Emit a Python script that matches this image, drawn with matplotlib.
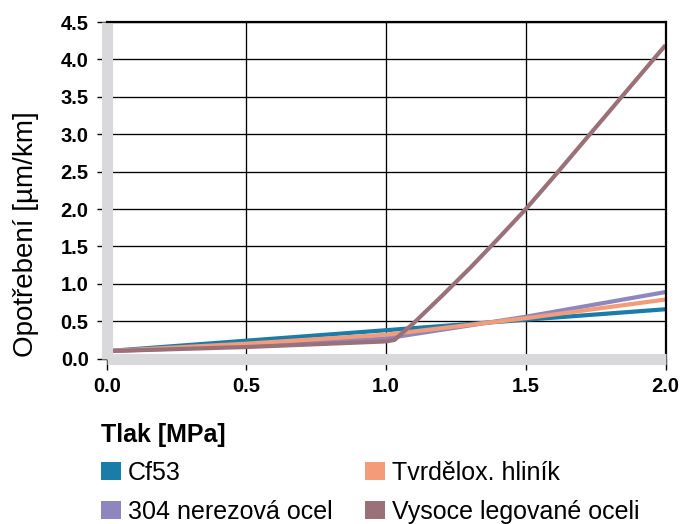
import matplotlib
matplotlib.use("Agg")
import matplotlib.pyplot as plt
from matplotlib.patches import Patch

plt.rcParams["font.family"] = ["Liberation Sans", "DejaVu Sans"]

# ---------------------------------------------------------------------------
# Data
# ---------------------------------------------------------------------------
pressure = [0.0, 0.5, 1.0, 1.5, 2.0]
wear_cf53 = [0.10, 0.24, 0.38, 0.52, 0.66]
wear_alu = [0.10, 0.20, 0.32, 0.54, 0.79]
wear_304 = [0.10, 0.17, 0.27, 0.56, 0.89]

pressure_hl = [0.0, 0.5, 1.0, 1.03, 1.06, 1.1, 1.2, 1.3, 1.4, 1.5,
               1.6, 1.7, 1.8, 1.9, 2.0]
wear_hl = [0.10, 0.155, 0.23, 0.25, 0.35, 0.48, 0.84, 1.21, 1.60, 2.00,
           2.43, 2.87, 3.31, 3.75, 4.19]

labels = ["Cf53", "304 nerezová ocel", "Tvrdělox. hliník", "Vysoce legované oceli"]

BLUE = "#1a7ca8"
ORANGE = "#f29c7a"
PURPLE = "#8e86be"
MAUVE = "#9a7178"
GRAY = "#d9d9db"

# ---------------------------------------------------------------------------
fig = plt.figure(figsize=(6.8, 5.24), dpi=100)
ax = fig.add_axes([0.157, 0.3156, 0.8217, 0.6424])

lw = 3.0
ax.plot(pressure, wear_cf53, color=BLUE, lw=lw, solid_capstyle="butt")
ax.plot(pressure, wear_304, color=PURPLE, lw=lw, solid_capstyle="butt")
ax.plot(pressure, wear_alu, color=ORANGE, lw=lw, solid_capstyle="butt")
ax.plot(pressure_hl, wear_hl, color=MAUVE, lw=lw, solid_capstyle="butt",
        solid_joinstyle="round")

ax.set_xlim(0, 2.0)
ax.set_ylim(0, 4.5)
ax.set_xticks([0, 0.5, 1.0, 1.5, 2.0])
ax.set_yticks([0.5 * i for i in range(10)])
ax.set_xticklabels([f"{v:.1f}" for v in ax.get_xticks()])
ax.set_yticklabels([f"{v:.1f}" for v in ax.get_yticks()])

ax.grid(True, color="black", lw=0.95)
for side in ("left", "bottom"):
    ax.spines[side].set_color(GRAY)
    ax.spines[side].set_linewidth(8)
    ax.spines[side].set_capstyle("butt")
ax.spines["top"].set_color("black")
ax.spines["top"].set_linewidth(1.6)
ax.spines["right"].set_color("black")
ax.spines["right"].set_linewidth(1.6)

ax.tick_params(axis="x", direction="out", length=8.2, width=1, color="black",
               pad=5, labelsize=14.5)
ax.tick_params(axis="y", direction="out", length=7, width=1, color="black",
               pad=6, labelsize=14.5)
for t in ax.get_xticklabels() + ax.get_yticklabels():
    t.set_fontweight("bold")

ax.set_ylabel("Opotřebení [µm/km]", fontsize=20)
ax.yaxis.set_label_coords(-0.122, 0.37)

fig.text(101 / 680, 1 - 435 / 524, "Tlak [MPa]", fontsize=18, fontweight="bold",
         ha="left", va="center")

handles = [Patch(facecolor=c, edgecolor="none") for c in (BLUE, PURPLE, ORANGE, MAUVE)]
fig.legend(handles, labels, ncol=2, loc="upper left",
           bbox_to_anchor=(101 / 680, 1 - 461 / 524), frameon=False,
           fontsize=18, borderpad=0, borderaxespad=0,
           handlelength=0.78, handleheight=0.75, handletextpad=0.3,
           labelspacing=0.6, columnspacing=1.3)

fig.savefig("out.png", dpi=100)
